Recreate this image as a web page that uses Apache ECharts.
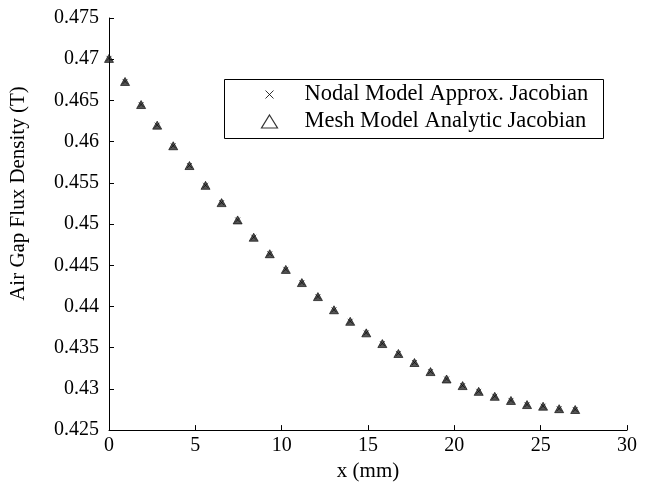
<!DOCTYPE html>
<html>
<head>
<meta charset="utf-8">
<script src="https://cdn.jsdelivr.net/npm/echarts@6/dist/echarts.min.js"></script>
<style>
html,body{margin:0;padding:0;background:#fff;}
#chart{width:654px;height:487px;}
</style>
</head>
<body>
<div id="chart"></div>
<script>
var xValues = [0, 0.93, 1.86, 2.79, 3.72, 4.66, 5.59, 6.52, 7.45, 8.38, 9.31, 10.24, 11.17, 12.10, 13.03, 13.97, 14.90, 15.83, 16.76, 17.69, 18.62, 19.55, 20.48, 21.41, 22.34, 23.28, 24.21, 25.14, 26.07, 27.00];
var nodalValues = [0.4701, 0.4673, 0.4645, 0.4620, 0.4595, 0.4571, 0.4547, 0.4526, 0.4505, 0.4484, 0.4464, 0.4445, 0.4429, 0.4412, 0.4396, 0.4382, 0.4368, 0.4355, 0.4343, 0.4332, 0.4321, 0.4312, 0.4304, 0.4297, 0.4291, 0.4286, 0.4281, 0.4279, 0.4276, 0.4275];
var meshValues = [0.4701, 0.4673, 0.4645, 0.4620, 0.4595, 0.4571, 0.4547, 0.4526, 0.4505, 0.4484, 0.4464, 0.4445, 0.4429, 0.4412, 0.4396, 0.4382, 0.4368, 0.4355, 0.4343, 0.4332, 0.4321, 0.4312, 0.4304, 0.4297, 0.4291, 0.4286, 0.4281, 0.4279, 0.4276, 0.4275];
var seriesNames = ['Nodal Model Approx. Jacobian', 'Mesh Model Analytic Jacobian'];
var xTicks = [0, 5, 10, 15, 20, 25, 30];
var yTicks = [0.425, 0.43, 0.435, 0.44, 0.445, 0.45, 0.455, 0.46, 0.465, 0.47, 0.475];
var xName = 'x (mm)';
var yName = 'Air Gap Flux Density (T)';

function pairs(xs, ys) { return xs.map(function (x, i) { return [x, ys[i]]; }); }

var FONT = 'Liberation Serif';
var crossPath = 'path://M0,0L10,10M10,0L0,10';
var chart = echarts.init(document.getElementById('chart'), null, {renderer: 'canvas'});
chart.setOption({
  animation: false,
  backgroundColor: '#fff',
  grid: {left: 101, right: 27, top: 18, bottom: 54, containLabel: false},
  xAxis: {
    type: 'value', min: xTicks[0], max: xTicks[xTicks.length - 1], interval: 5,
    name: xName, nameLocation: 'middle', nameGap: 30,
    nameTextStyle: {fontFamily: FONT, fontSize: 21, color: '#000'},
    axisLine: {show: true, onZero: false, lineStyle: {color: '#000', width: 1}},
    axisTick: {show: true, inside: true, length: 5, lineStyle: {color: '#000'}},
    axisLabel: {fontFamily: FONT, fontSize: 20, color: '#000', margin: 6, formatter: function (v) { return String(v); }},
    splitLine: {show: false}
  },
  yAxis: {
    type: 'value', min: yTicks[0], max: yTicks[yTicks.length - 1], interval: 0.005,
    name: yName, nameLocation: 'middle', nameGap: 80, nameRotate: 90,
    nameTextStyle: {fontFamily: FONT, fontSize: 21, color: '#000', padding: [0, 0, 0, 61]},
    axisLine: {show: true, onZero: false, lineStyle: {color: '#000', width: 1}},
    axisTick: {show: true, inside: true, length: 5, lineStyle: {color: '#000'}},
    axisLabel: {fontFamily: FONT, fontSize: 20, color: '#000', margin: 10, formatter: function (v) { return String(+v.toFixed(3)); }},
    splitLine: {show: false}
  },
  legend: [
    {
      data: [{name: seriesNames[0], icon: crossPath, itemStyle: {color: 'none', borderColor: '#000', borderWidth: 1}}],
      left: 263, top: 83, orient: 'vertical', padding: 0,
      itemWidth: 8, itemHeight: 8,
      textStyle: {fontFamily: FONT, fontSize: 22.5, color: '#000', lineHeight: 22, padding: [0, 0, 0, 26]}
    },
    {
      data: [{name: seriesNames[1], icon: 'triangle', itemStyle: {color: 'none', borderColor: '#000', borderWidth: 1.2}}],
      left: 259, top: 110, orient: 'vertical', padding: 0,
      itemWidth: 16, itemHeight: 13,
      textStyle: {fontFamily: FONT, fontSize: 22.5, color: '#000', lineHeight: 22, padding: [0, 0, 0, 22]}
    }
  ],
  graphic: [
    {type: 'rect', left: 222, top: 77, shape: {width: 379, height: 59}, style: {fill: 'none', stroke: '#000', lineWidth: 1}, z: 100}
  ],
  series: [
    {
      name: seriesNames[1], type: 'scatter', data: pairs(xValues, meshValues),
      symbol: 'triangle', symbolSize: [9, 8],
      itemStyle: {color: '#2a2a2a', borderColor: '#000', borderWidth: 0.8},
      z: 2
    },
    {
      name: seriesNames[0], type: 'scatter', data: pairs(xValues, nodalValues),
      symbol: crossPath, symbolSize: 5,
      itemStyle: {color: 'none', borderColor: '#000', borderWidth: 0.8},
      z: 3
    }
  ]
});
</script>
</body>
</html>
